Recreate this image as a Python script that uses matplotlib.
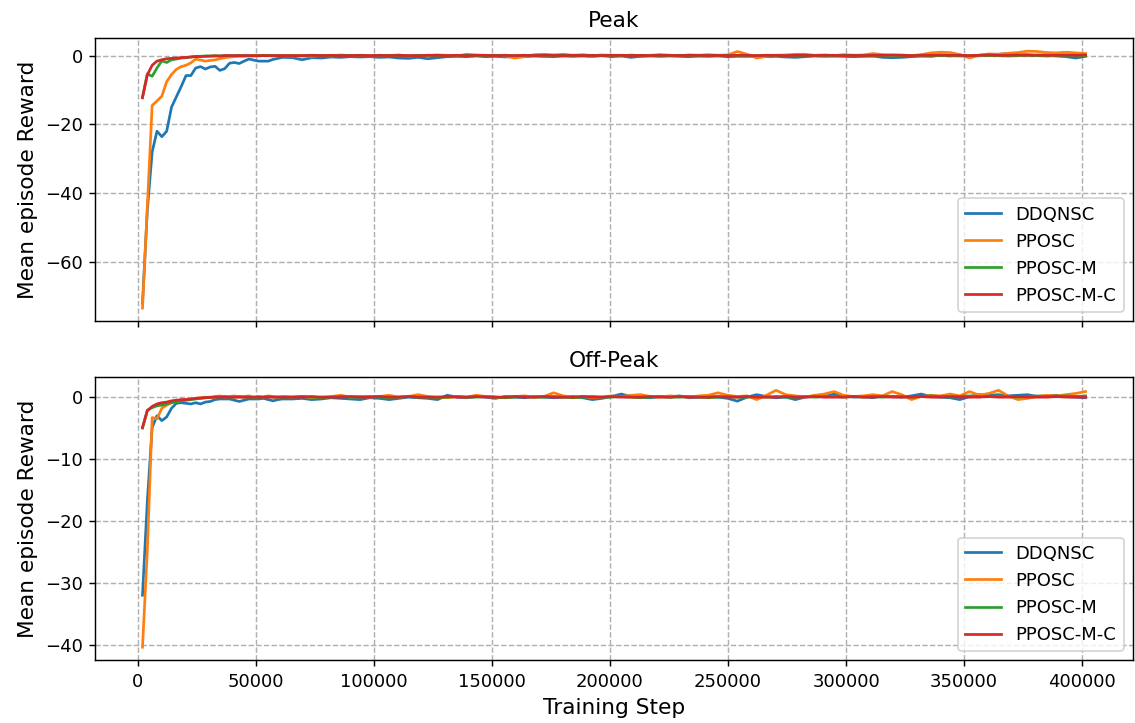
import numpy as np
import matplotlib
matplotlib.use('Agg')
import matplotlib.pyplot as plt


# training steps: every 2048 steps for the first part, then every 4096
steps = np.concatenate([np.arange(1, 31) * 2048, 65536 + np.arange(83) * 4096])

labels = ['DDQNSC', 'PPOSC', 'PPOSC-M', 'PPOSC-M-C']
colors = ['#1f77b4', '#ff7f0e', '#2ca02c', '#d62728']

# ---- Peak ----
peak_ddqnsc = [
    -72.0, -45.0, -28.0, -22.0, -23.6, -22.0, -15.0, -12.0, -9.0, -5.8,
    -5.8, -3.6, -3.2, -3.9, -3.3, -3.1, -4.3, -3.8, -2.2, -2.0,
    -2.3, -1.6, -1.0, -1.3, -1.6, -1.6, -1.6, -1.1, -0.8, -0.5,
    -0.6, -1.2, -0.6, -0.7, -0.4, -0.5, -0.3, -0.4, -0.3, -0.5,
    -0.4, -0.7, -0.8, -0.5, -0.9, -0.6, -0.3, -0.2, -0.3, -0.1,
    -0.3, -0.2, -0.4, -0.2, -0.3, -0.1, -0.2, -0.3, -0.1, -0.2,
    -0.1, -0.2, 0.0, -0.3, -0.1, -0.5, -0.2, -0.1, -0.2, -0.1,
    -0.2, -0.3, -0.1, -0.2, -0.1, -0.3, -0.2, -0.1, -0.2, -0.3,
    -0.2, -0.4, -0.5, -0.3, -0.1, -0.2, -0.1, -0.2, -0.3, -0.2,
    -0.1, -0.5, -0.6, -0.5, -0.3, -0.1, -0.2, 0.1, -0.1, 0.2,
    -0.2, 0.1, 0.3, 0.4, 0.6, 0.2, 0.3, 0.0, 0.2, -0.1,
    -0.3, -0.7, -0.2]
peak_pposc = [
    -73.5, -44.0, -14.5, -13.2, -11.8, -7.6, -5.5, -4.0, -3.2, -2.8,
    -2.1, -1.0, -1.3, -1.6, -1.4, -1.25, -0.9, -0.6, -0.4, -0.3,
    -0.2, -0.2, -0.1, 0.0, -0.1, 0.1, 0.0, -0.1, 0.1, 0.0,
    -0.1, 0.0, -0.2, 0.1, -0.1, 0.2, 0.0, 0.1, -0.1, 0.1,
    0.0, 0.2, -0.1, 0.1, 0.0, 0.2, 0.1, -0.1, 0.4, 0.2,
    0.0, 0.1, -0.2, -0.7, -0.3, 0.3, 0.4, 0.2, 0.4, 0.1,
    0.3, 0.0, 0.2, 0.1, -0.1, 0.2, 0.0, 0.1, 0.3, 0.1,
    0.0, 0.2, 0.1, 0.3, 0.1, 0.2, 1.2, 0.4, -0.7, -0.2,
    0.1, 0.2, 0.4, 0.4, 0.1, 0.2, 0.0, 0.3, 0.1, 0.2,
    0.6, 0.3, 0.1, 0.2, 0.0, 0.3, 0.8, 1.0, 0.9, 0.3,
    -0.7, 0.1, 0.5, 0.4, 0.7, 0.9, 1.3, 1.2, 0.9, 0.8,
    1.0, 0.8, 0.6]
peak_pposc_m = [
    -12.0, -5.3, -6.0, -3.6, -1.5, -2.0, -1.2, -1.0, -0.7, -0.6,
    -0.4, -0.2, -0.2, -0.1, -0.1, 0.0, -0.1, 0.0, 0.0, 0.0,
    0.1, 0.0, 0.0, -0.1, 0.0, 0.0, 0.1, 0.0, 0.0, 0.0,
    0.0, -0.1, 0.1, 0.0, -0.1, 0.0, 0.1, 0.0, -0.1, 0.0,
    0.1, 0.0, -0.1, 0.0, 0.1, 0.0, 0.0, -0.1, 0.1, 0.0,
    0.0, 0.1, -0.1, 0.0, 0.1, 0.0, -0.1, 0.0, 0.1, 0.0,
    0.0, -0.1, 0.0, 0.1, 0.0, 0.0, -0.1, 0.0, 0.1, 0.0,
    0.1, 0.0, -0.1, 0.0, 0.0, 0.1, 0.0, -0.2, 0.0, 0.1,
    0.0, -0.1, 0.0, 0.1, 0.0, 0.0, -0.1, 0.0, 0.1, 0.0,
    -0.1, 0.0, 0.1, 0.0, 0.0, -0.1, 0.0, 0.1, 0.0, -0.1,
    0.0, 0.1, 0.0, 0.0, -0.1, 0.0, 0.1, 0.0, -0.1, 0.0,
    0.1, 0.0, 0.0]
peak_pposc_m_c = [
    -12.3, -5.6, -2.8, -1.6, -1.2, -0.9, -0.8, -0.7, -0.6, -0.5,
    -0.4, -0.3, -0.25, -0.2, -0.15, -0.1, -0.1, 0.0, 0.0, 0.0,
    0.0, 0.0, 0.0, 0.0, 0.0, 0.0, 0.0, 0.0, 0.0, 0.0,
    0.0, 0.0, 0.1, 0.0, 0.1, 0.0, 0.0, 0.1, 0.0, 0.1,
    0.0, 0.1, 0.0, 0.0, 0.1, 0.1, 0.0, 0.1, 0.0, 0.1,
    0.1, 0.0, 0.1, 0.0, 0.1, 0.0, 0.1, 0.1, 0.0, 0.1,
    0.0, 0.1, 0.0, 0.1, 0.1, 0.0, 0.1, 0.0, 0.1, 0.1,
    0.0, 0.1, 0.1, 0.0, 0.1, 0.0, 0.1, 0.1, 0.0, 0.1,
    0.1, 0.0, 0.1, 0.1, 0.0, 0.1, 0.1, 0.0, 0.1, 0.0,
    0.1, 0.1, 0.2, 0.1, 0.0, 0.1, 0.1, 0.2, 0.1, 0.1,
    0.0, 0.1, 0.2, 0.1, 0.1, 0.2, 0.1, 0.2, 0.1, 0.1,
    0.2, 0.1, 0.2]

# ---- Off-Peak ----
offpeak_ddqnsc = [
    -32.0, -16.8, -4.9, -3.0, -3.8, -3.2, -1.8, -1.0, -0.9, -1.0,
    -1.1, -0.9, -1.1, -0.8, -0.7, -0.4, -0.3, -0.3, -0.3, -0.5,
    -0.7, -0.5, -0.3, -0.3, -0.3, -0.2, -0.4, -0.6, -0.4, -0.3,
    -0.3, -0.2, -0.4, -0.3, -0.1, -0.2, -0.3, -0.4, -0.1, -0.2,
    -0.4, -0.2, 0.0, -0.1, -0.2, -0.4, 0.3, 0.0, -0.1, 0.1,
    0.0, -0.2, 0.1, 0.0, -0.1, 0.1, 0.0, -0.1, 0.0, 0.1,
    -0.1, -0.4, -0.2, 0.1, 0.5, 0.1, 0.0, -0.1, 0.1, 0.0,
    0.2, -0.1, 0.0, 0.1, 0.0, -0.2, -0.65, 0.0, 0.4, 0.1,
    -0.1, 0.0, -0.4, 0.0, 0.2, 0.1, 0.5, 0.2, 0.0, 0.1,
    -0.1, 0.2, 0.1, 0.0, 0.2, 0.5, 0.1, 0.0, -0.1, -0.4,
    0.1, 0.4, 0.3, 0.4, 0.2, 0.3, 0.4, 0.1, 0.2, 0.3,
    0.1, 0.0, -0.1]
offpeak_pposc = [
    -40.4, -24.8, -3.3, -3.5, -1.8, -1.3, -0.9, -0.6, -0.5, -0.4,
    -0.4, -0.2, -0.1, 0.0, -0.1, 0.1, 0.2, 0.0, 0.1, 0.2,
    0.0, 0.1, 0.2, 0.0, 0.1, 0.0, 0.2, 0.1, 0.0, 0.1,
    0.0, 0.1, -0.1, 0.0, 0.1, 0.3, 0.0, 0.1, 0.0, 0.1,
    0.3, 0.0, 0.1, 0.4, 0.1, 0.0, -0.1, 0.1, 0.0, 0.3,
    0.1, 0.0, -0.1, 0.1, 0.2, 0.0, 0.1, 0.7, 0.2, 0.0,
    0.1, -0.1, 0.0, 0.2, 0.1, 0.3, 0.4, 0.1, 0.0, 0.2,
    0.1, 0.0, 0.2, 0.3, 0.7, 0.3, 0.1, 0.2, -0.4, 0.3,
    1.1, 0.4, 0.2, 0.0, 0.3, 0.5, 0.9, 0.3, 0.1, 0.2,
    0.4, 0.2, 0.9, 0.4, -0.4, 0.1, 0.3, 0.2, 0.5, 0.2,
    0.9, 0.3, 0.6, 1.1, 0.2, -0.4, -0.2, 0.1, 0.3, 0.2,
    0.4, 0.6, 0.9]
offpeak_pposc_m = [
    -5.0, -2.1, -1.7, -1.4, -1.3, -1.1, -0.9, -0.8, -0.6, -0.5,
    -0.4, -0.3, -0.2, -0.1, 0.0, 0.0, 0.0, 0.1, 0.0, 0.0,
    0.1, 0.0, 0.0, -0.1, 0.0, 0.0, 0.1, 0.0, 0.0, 0.0,
    0.0, 0.1, 0.0, -0.1, 0.0, 0.1, 0.0, 0.0, 0.1, 0.0,
    -0.1, 0.0, 0.1, 0.0, 0.0, -0.1, 0.0, 0.1, 0.0, 0.0,
    0.1, 0.0, -0.1, 0.0, 0.1, 0.0, 0.0, 0.1, 0.0, -0.1,
    0.0, 0.1, 0.0, 0.0, 0.1, 0.0, -0.1, 0.0, 0.1, 0.0,
    0.0, 0.1, 0.0, -0.1, 0.0, 0.1, 0.0, 0.0, 0.1, 0.0,
    0.1, 0.0, 0.0, 0.1, 0.0, 0.1, 0.1, 0.0, 0.1, 0.0,
    0.1, 0.0, 0.1, 0.1, 0.0, 0.1, 0.2, 0.1, 0.0, 0.1,
    0.2, 0.1, 0.1, 0.2, 0.1, 0.0, 0.1, 0.2, 0.1, 0.1,
    0.2, 0.1, 0.2]
offpeak_pposc_m_c = [
    -4.9, -2.2, -1.5, -1.1, -0.9, -0.8, -0.6, -0.5, -0.4, -0.4,
    -0.3, -0.2, -0.15, -0.1, -0.05, 0.0, 0.0, 0.0, 0.0, 0.0,
    0.0, 0.0, 0.0, 0.0, 0.0, 0.0, 0.0, 0.0, 0.0, 0.0,
    0.0, 0.0, 0.1, 0.0, 0.0, 0.0, 0.1, 0.0, 0.0, 0.1,
    0.0, 0.0, 0.1, 0.0, 0.0, 0.0, 0.1, 0.0, 0.0, 0.1,
    0.0, 0.0, 0.0, 0.1, 0.0, 0.0, 0.1, 0.0, 0.0, 0.0,
    0.1, 0.0, 0.0, 0.1, 0.0, 0.0, 0.0, 0.1, 0.0, 0.0,
    0.1, 0.0, 0.0, 0.0, 0.1, 0.0, 0.0, 0.1, 0.0, 0.0,
    0.0, 0.1, 0.0, 0.0, 0.1, 0.0, 0.0, 0.0, 0.1, 0.0,
    0.0, 0.1, 0.0, 0.0, 0.0, 0.1, 0.0, 0.0, 0.1, 0.0,
    0.0, 0.0, 0.1, 0.0, 0.0, 0.1, 0.0, 0.0, 0.0, 0.1,
    0.0, 0.0, 0.0]


def plot_panel(ax, series, title):
    for values, label, color in zip(series, labels, colors):
        ax.plot(steps, values, color=color, label=label)
    ax.set_title(title)
    ax.set_ylabel('Mean episode Reward', fontsize=12)
    ax.grid(True, linestyle='--')
    ax.legend(loc='lower right')


def main():
    dpi = 130
    fig, (ax1, ax2) = plt.subplots(2, 1, sharex=True, figsize=(1135 / dpi, 723 / dpi), dpi=dpi)
    fig.subplots_adjust(left=0.084, right=0.998, top=0.947, bottom=0.087, hspace=0.2)

    plot_panel(ax1, [peak_ddqnsc, peak_pposc, peak_pposc_m, peak_pposc_m_c], 'Peak')
    plot_panel(ax2, [offpeak_ddqnsc, offpeak_pposc, offpeak_pposc_m, offpeak_pposc_m_c],
               'Off-Peak')
    ax2.set_xlabel('Training Step', fontsize=12)
    ax1.set_yticks([0, -20, -40, -60])
    ax2.set_yticks([0, -10, -20, -30, -40])

    fig.savefig('out.png', dpi=dpi)


if __name__ == '__main__':
    main()
